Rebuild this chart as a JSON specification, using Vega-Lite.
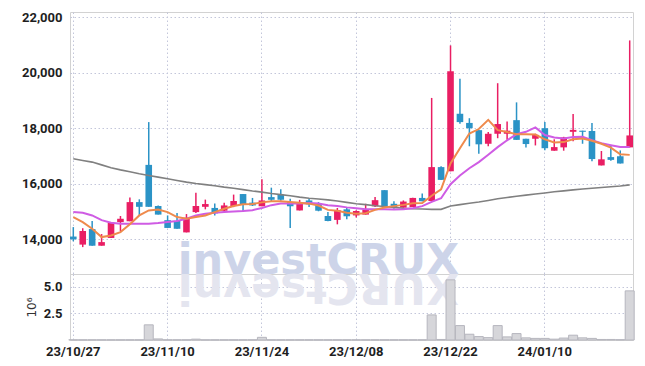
{
  "$schema": "https://vega.github.io/schema/vega-lite/v6.json",
  "background": "white",
  "bounds": "flush",
  "padding": {"left": 21, "top": 10, "right": 10, "bottom": 4},
  "spacing": 0,
  "config": {
    "view": {"stroke": "#d2d2d2", "strokeWidth": 1},
    "axis": {
      "gridColor": "#c3c6da",
      "gridDash": [1.5, 2.5],
      "gridWidth": 1,
      "domain": false,
      "ticks": false,
      "tickSize": 0,
      "labelColor": "#1e1e1e",
      "labelFont": "Roboto",
      "labelFontWeight": "bold",
      "labelFontSize": 13
    }
  },
  "data": {
    "values": [
      {"d": "23/10/27", "o": 14100, "h": 14440, "l": 13930, "c": 14000, "v": 0.02, "m5": 14800, "m10": 14980, "m60": 16900},
      {"d": "23/10/30", "o": 13810, "h": 14400, "l": 13720, "c": 14300, "v": 0.02, "m5": 14620, "m10": 14955, "m60": 16840},
      {"d": "23/10/31", "o": 14370, "h": 14660, "l": 13770, "c": 13770, "v": 0.02, "m5": 14380, "m10": 14860, "m60": 16780},
      {"d": "23/11/01", "o": 13770, "h": 14190, "l": 13770, "c": 13900, "v": 0.02, "m5": 14080, "m10": 14690, "m60": 16680},
      {"d": "23/11/02", "o": 14050, "h": 14620, "l": 14050, "c": 14590, "v": 0.02, "m5": 14140, "m10": 14600, "m60": 16580},
      {"d": "23/11/03", "o": 14620, "h": 14840, "l": 14290, "c": 14740, "v": 0.02, "m5": 14260, "m10": 14565, "m60": 16500},
      {"d": "23/11/06", "o": 14650, "h": 15510, "l": 14650, "c": 15340, "v": 0.02, "m5": 14540, "m10": 14560, "m60": 16430},
      {"d": "23/11/07", "o": 15340, "h": 15440, "l": 14860, "c": 15170, "v": 0.02, "m5": 14860, "m10": 14560, "m60": 16360},
      {"d": "23/11/08", "o": 16680, "h": 18220, "l": 15170, "c": 15170, "v": 1.42, "m5": 15040, "m10": 14560, "m60": 16300},
      {"d": "23/11/09", "o": 15200, "h": 15220, "l": 14890, "c": 14890, "v": 0.1, "m5": 15070, "m10": 14585, "m60": 16240},
      {"d": "23/11/10", "o": 14690, "h": 14860, "l": 14410, "c": 14410, "v": 0.02, "m5": 14980, "m10": 14620, "m60": 16180},
      {"d": "23/11/13", "o": 14660, "h": 14950, "l": 14380, "c": 14380, "v": 0.02, "m5": 14800, "m10": 14660, "m60": 16120},
      {"d": "23/11/14", "o": 14250, "h": 14910, "l": 14250, "c": 14780, "v": 0.02, "m5": 14740, "m10": 14740, "m60": 16060},
      {"d": "23/11/15", "o": 14980, "h": 15680, "l": 14950, "c": 15200, "v": 0.08, "m5": 14800, "m10": 14860, "m60": 16010},
      {"d": "23/11/16", "o": 15170, "h": 15430, "l": 15080, "c": 15270, "v": 0.02, "m5": 14860, "m10": 14920, "m60": 15970},
      {"d": "23/11/17", "o": 15130, "h": 15290, "l": 14860, "c": 14935, "v": 0.02, "m5": 14980, "m10": 14955, "m60": 15930},
      {"d": "23/11/20", "o": 15030, "h": 15320, "l": 14950, "c": 15220, "v": 0.02, "m5": 15100, "m10": 14985, "m60": 15880},
      {"d": "23/11/21", "o": 15200, "h": 15610, "l": 15160, "c": 15380, "v": 0.02, "m5": 15200, "m10": 15005, "m60": 15840},
      {"d": "23/11/22", "o": 15630, "h": 15630, "l": 15010, "c": 15250, "v": 0.02, "m5": 15260, "m10": 15020, "m60": 15790},
      {"d": "23/11/23", "o": 15320, "h": 15490, "l": 15200, "c": 15220, "v": 0.02, "m5": 15270, "m10": 15050, "m60": 15740},
      {"d": "23/11/24", "o": 15190, "h": 16160, "l": 15190, "c": 15400, "v": 0.25, "m5": 15330, "m10": 15130, "m60": 15700},
      {"d": "23/11/27", "o": 15520, "h": 15860, "l": 15370, "c": 15425, "v": 0.02, "m5": 15370, "m10": 15230, "m60": 15650},
      {"d": "23/11/28", "o": 15610, "h": 15800, "l": 15390, "c": 15425, "v": 0.02, "m5": 15370, "m10": 15290, "m60": 15610},
      {"d": "23/11/29", "o": 15340, "h": 15460, "l": 14410, "c": 15190, "v": 0.02, "m5": 15345, "m10": 15290, "m60": 15570},
      {"d": "23/11/30", "o": 15040, "h": 15420, "l": 15040, "c": 15280, "v": 0.02, "m5": 15320, "m10": 15290, "m60": 15520},
      {"d": "23/12/01", "o": 15400, "h": 15460, "l": 15160, "c": 15260, "v": 0.02, "m5": 15285, "m10": 15310, "m60": 15480},
      {"d": "23/12/04", "o": 15280, "h": 15340, "l": 15010, "c": 15030, "v": 0.02, "m5": 15215, "m10": 15290, "m60": 15450},
      {"d": "23/12/05", "o": 14840, "h": 14980, "l": 14650, "c": 14660, "v": 0.02, "m5": 15060, "m10": 15225, "m60": 15420},
      {"d": "23/12/06", "o": 14700, "h": 15130, "l": 14540, "c": 15050, "v": 0.02, "m5": 15030, "m10": 15200, "m60": 15380},
      {"d": "23/12/07", "o": 15080, "h": 15130, "l": 14720, "c": 14830, "v": 0.02, "m5": 14960, "m10": 15150, "m60": 15330},
      {"d": "23/12/08", "o": 14860, "h": 15050, "l": 14790, "c": 15020, "v": 0.02, "m5": 14925, "m10": 15115, "m60": 15280},
      {"d": "23/12/11", "o": 14890, "h": 15280, "l": 14890, "c": 15060, "v": 0.02, "m5": 14940, "m10": 15085, "m60": 15250},
      {"d": "23/12/12", "o": 15190, "h": 15520, "l": 15160, "c": 15410, "v": 0.02, "m5": 15060, "m10": 15080, "m60": 15210},
      {"d": "23/12/13", "o": 15770, "h": 15770, "l": 15200, "c": 15200, "v": 0.02, "m5": 15145, "m10": 15080, "m60": 15180},
      {"d": "23/12/14", "o": 15280, "h": 15370, "l": 15100, "c": 15140, "v": 0.02, "m5": 15195, "m10": 15070, "m60": 15150},
      {"d": "23/12/15", "o": 15140, "h": 15400, "l": 15140, "c": 15360, "v": 0.02, "m5": 15240, "m10": 15080, "m60": 15120},
      {"d": "23/12/18", "o": 15160, "h": 15500, "l": 15160, "c": 15490, "v": 0.02, "m5": 15300, "m10": 15120, "m60": 15100},
      {"d": "23/12/19", "o": 15490, "h": 15650, "l": 15370, "c": 15370, "v": 0.02, "m5": 15310, "m10": 15195, "m60": 15090},
      {"d": "23/12/20", "o": 15380, "h": 19090, "l": 15380, "c": 16600, "v": 2.35, "m5": 15570, "m10": 15350, "m60": 15080},
      {"d": "23/12/21", "o": 16600, "h": 16630, "l": 16140, "c": 16140, "v": 0.05, "m5": 15800, "m10": 15480, "m60": 15080},
      {"d": "23/12/22", "o": 16450, "h": 20980, "l": 16450, "c": 20050, "v": 5.63, "m5": 16730, "m10": 15985, "m60": 15200},
      {"d": "23/12/26", "o": 18520, "h": 19780, "l": 18160, "c": 18220, "v": 1.35, "m5": 17280, "m10": 16300, "m60": 15250},
      {"d": "23/12/27", "o": 18190, "h": 18360, "l": 17350, "c": 18000, "v": 0.54, "m5": 17810, "m10": 16560, "m60": 15300},
      {"d": "23/12/28", "o": 17930, "h": 17930, "l": 17080, "c": 17420, "v": 0.32, "m5": 17970, "m10": 16780, "m60": 15345},
      {"d": "24/01/02", "o": 17440, "h": 17860, "l": 17350, "c": 17800, "v": 0.22, "m5": 18300, "m10": 17045, "m60": 15400},
      {"d": "24/01/03", "o": 17800, "h": 19620, "l": 17640, "c": 18150, "v": 1.35, "m5": 17930, "m10": 17320, "m60": 15460},
      {"d": "24/01/04", "o": 17800, "h": 18240, "l": 17580, "c": 17910, "v": 0.29, "m5": 17860, "m10": 17565, "m60": 15505},
      {"d": "24/01/05", "o": 18290, "h": 18930, "l": 17580, "c": 17580, "v": 0.6, "m5": 17780, "m10": 17785, "m60": 15550},
      {"d": "24/01/08", "o": 17620, "h": 17620, "l": 17310, "c": 17430, "v": 0.2, "m5": 17780, "m10": 17870, "m60": 15590},
      {"d": "24/01/09", "o": 17620, "h": 17800, "l": 17380, "c": 17760, "v": 0.15, "m5": 17770, "m10": 18030, "m60": 15630},
      {"d": "24/01/10", "o": 18000, "h": 18220, "l": 17210, "c": 17280, "v": 0.15, "m5": 17600, "m10": 17755, "m60": 15670},
      {"d": "24/01/11", "o": 17190, "h": 17600, "l": 17190, "c": 17320, "v": 0.08, "m5": 17490, "m10": 17665, "m60": 15710},
      {"d": "24/01/12", "o": 17310, "h": 17690, "l": 17190, "c": 17670, "v": 0.18, "m5": 17500, "m10": 17630, "m60": 15745},
      {"d": "24/01/15", "o": 17870, "h": 18510, "l": 17530, "c": 17940, "v": 0.45, "m5": 17600, "m10": 17685, "m60": 15780},
      {"d": "24/01/16", "o": 17910, "h": 17910, "l": 17440, "c": 17870, "v": 0.2, "m5": 17630, "m10": 17690, "m60": 15810},
      {"d": "24/01/17", "o": 17900, "h": 18190, "l": 16810, "c": 16890, "v": 0.15, "m5": 17550, "m10": 17565, "m60": 15840},
      {"d": "24/01/18", "o": 16660, "h": 17180, "l": 16660, "c": 16880, "v": 0.05, "m5": 17440, "m10": 17460, "m60": 15865},
      {"d": "24/01/19", "o": 16960, "h": 17400, "l": 16830, "c": 16860, "v": 0.05, "m5": 17300, "m10": 17390, "m60": 15895},
      {"d": "24/01/22", "o": 16990, "h": 17200, "l": 16730, "c": 16730, "v": 0.03, "m5": 17060, "m10": 17320, "m60": 15920},
      {"d": "24/01/23", "o": 17310, "h": 21160, "l": 17310, "c": 17740, "v": 4.6, "m5": 17040, "m10": 17320, "m60": 15960}
    ]
  },
  "vconcat": [
    {
      "width": 563,
      "height": 262,
      "encoding": {
        "x": {
          "field": "d",
          "type": "ordinal",
          "scale": {"type": "band", "paddingInner": 0.3, "paddingOuter": 0},
          "axis": {
            "labels": false,
            "title": null,
            "grid": true,
            "bandPosition": 0.5,
            "values": ["23/10/27", "23/11/10", "23/11/24", "23/12/08", "23/12/22", "24/01/10"]
          }
        }
      },
      "layer": [
        {
          "data": {"values": [{"t": "investCRUX", "xd": "23/12/04", "yd": 12752}]},
          "mark": {"type": "text", "font": "DejaVu Sans", "fontWeight": "bold", "fontSize": 43, "fill": "#cdd4e9", "align": "center", "baseline": "alphabetic"},
          "encoding": {
            "x": {"field": "xd", "type": "ordinal", "bandPosition": 0.5},
            "y": {"field": "yd", "type": "quantitative", "scale": {"domain": [12752, 22183], "zero": false, "nice": false},
              "axis": {"title": null, "values": [14000, 16000, 18000, 20000, 22000], "labelExpr": "format(datum.value, ',')", "labelPadding": 8}},
            "text": {"field": "t"}
          }
        },
        {
          "mark": {"type": "rule", "strokeWidth": 1.5},
          "encoding": {
            "x": {"field": "d", "type": "ordinal", "bandPosition": 0.5},
            "y": {"field": "l", "type": "quantitative"},
            "y2": {"field": "h"},
            "color": {"condition": {"test": "datum.c >= datum.o", "value": "#e91e63"}, "value": "#2b93c6"}
          }
        },
        {
          "mark": {"type": "bar"},
          "encoding": {
            "y": {"field": "o", "type": "quantitative"},
            "y2": {"field": "c"},
            "color": {"condition": {"test": "datum.c >= datum.o", "value": "#e91e63"}, "value": "#2b93c6"}
          }
        },
        {
          "mark": {"type": "line", "color": "#808080", "strokeWidth": 1.6},
          "encoding": {
            "x": {"field": "d", "type": "ordinal", "bandPosition": 0.5},
            "y": {"field": "m60", "type": "quantitative"}
          }
        },
        {
          "mark": {"type": "line", "color": "#cf5ce4", "strokeWidth": 2},
          "encoding": {
            "x": {"field": "d", "type": "ordinal", "bandPosition": 0.5},
            "y": {"field": "m10", "type": "quantitative"}
          }
        },
        {
          "mark": {"type": "line", "color": "#ef8a4c", "strokeWidth": 2},
          "encoding": {
            "x": {"field": "d", "type": "ordinal", "bandPosition": 0.5},
            "y": {"field": "m5", "type": "quantitative"}
          }
        }
      ]
    },
    {
      "width": 563,
      "height": 66,
      "encoding": {
        "x": {
          "field": "d",
          "type": "ordinal",
          "scale": {"type": "band", "paddingInner": 0.3, "paddingOuter": 0},
          "axis": {
            "title": null,
            "grid": true,
            "bandPosition": 0.5,
            "labelPadding": 5,
            "labelFontSize": 13,
            "labelAngle": 0,
            "values": ["23/10/27", "23/11/10", "23/11/24", "23/12/08", "23/12/22", "24/01/10"]
          }
        }
      },
      "layer": [
        {
          "data": {"values": [{"t": "XURCtsevni", "xd": "23/12/04", "yd": 6.18}]},
          "mark": {"type": "text", "font": "DejaVu Sans", "fontWeight": "bold", "fontSize": 43, "fill": "#e4e5ef", "align": "center", "baseline": "alphabetic", "angle": 180},
          "encoding": {
            "x": {"field": "xd", "type": "ordinal", "bandPosition": 0.5},
            "y": {"field": "yd", "type": "quantitative", "scale": {"domain": [0, 6.18], "nice": false, "zero": true},
              "axis": {"title": "10⁶", "titleFont": "DejaVu Sans", "titleFontWeight": "normal", "titleFontSize": 12, "titleColor": "#333333", "titlePadding": 5, "values": [2.5, 5], "labelExpr": "format(datum.value, '.1f')", "labelPadding": 8}},
            "text": {"field": "t"}
          }
        },
        {
          "mark": {"type": "bar", "width": 9, "fill": "#d6d6da", "stroke": "#b6b6be", "strokeWidth": 1},
          "encoding": {
            "y": {"field": "v", "type": "quantitative"}
          }
        }
      ]
    }
  ]
}
